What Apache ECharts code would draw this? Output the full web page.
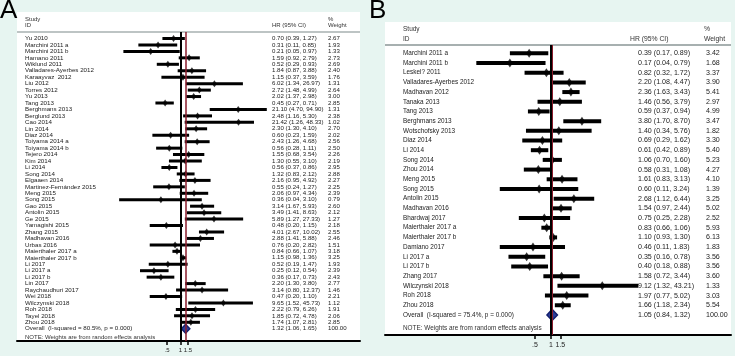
<!DOCTYPE html>
<html>
<head>
<meta charset="utf-8">
<script src="https://cdn.jsdelivr.net/npm/echarts@6/dist/echarts.min.js"></script>
<style>
html,body{margin:0;padding:0;background:#e7f5f1;}
#forest{width:735px;height:356px;}
</style>
</head>
<body>
<div id="forest"></div>
<script>
// panel A studies
var aStudy = ['Yu 2010','Marchini 2011 a','Marchini 2011 b','Hamano 2011','Wiklund 2011','Valladares-Ayerbes 2012','Karaayvaz  2012','Liu 2012','Torres 2012','Yu 2013','Tang 2013','Berghmans 2013','Berglund 2013','Cao 2014','Lin 2014','Diaz 2014','Toiyama 2014 a','Toiyama 2014 b','Tejero 2014','Kim 2014','Li 2014','Song 2014','Elgaaen 2014','Martinez-Fernández 2015','Meng 2015','Song 2015','Gao 2015','Antolin 2015','Ge 2015','Yamagishi 2015','Zhang 2015','Madhavan 2016','Urbas 2016','Maierthaler 2017 a','Maierthaler 2017 b','Li 2017','Li 2017 a','Li 2017 b','Lin 2017','Raychaudhuri 2017','Wei 2018','Wilczynski 2018','Roh 2018','Tayel 2018','Zhou 2018'];
var aHR   = [0.70,0.31,0.21,1.59,0.52,1.84,1.15,6.02,2.72,2.02,0.45,21.10,2.48,21.42,2.30,0.60,2.43,0.56,1.55,1.30,0.56,1.32,2.16,0.55,2.06,0.36,3.14,3.49,5.89,0.48,4.01,2.88,0.76,0.84,1.15,0.52,0.25,0.36,2.20,3.14,0.47,9.65,2.22,1.85,1.74];
var aLow  = [0.39,0.11,0.05,0.92,0.29,0.87,0.37,1.34,1.48,1.37,0.27,4.70,1.16,1.26,1.30,0.23,1.26,0.28,0.68,0.55,0.37,0.83,0.95,0.24,0.97,0.04,1.67,1.41,1.27,0.20,2.67,1.41,0.20,0.66,0.98,0.19,0.12,0.17,1.30,0.80,0.20,1.52,0.79,0.72,1.07];
var aHigh = [1.27,0.85,0.97,2.79,0.93,3.88,3.59,26.97,4.99,2.98,0.71,94.90,5.30,48.33,4.10,1.59,4.68,1.11,3.54,3.10,0.86,2.12,4.92,1.27,4.34,3.10,5.93,8.63,27.33,1.15,10.02,5.88,2.82,1.07,1.36,1.47,0.54,0.73,3.80,12.37,1.10,45.73,6.26,4.78,2.81];
var aWeight = [2.67,1.93,1.33,2.73,2.69,2.40,1.76,1.31,2.64,3.00,2.85,1.31,2.38,1.02,2.70,2.02,2.56,2.50,2.26,2.19,2.95,2.88,2.27,2.25,2.39,0.79,2.60,2.12,1.27,2.18,2.55,2.46,1.51,3.18,3.25,1.93,2.39,2.43,2.77,1.46,2.21,1.12,1.91,2.06,2.85];
var aOverall = [1.32, 1.06, 1.65, 100.00];
var aOverallLabel = 'Overall  (I-squared = 80.5%, p = 0.000)';

// panel B studies
var bStudy = ['Marchini 2011 a','Marchini 2011 b','Leskel? 2011','Valladares-Ayerbes 2012','Madhavan 2012','Tanaka 2013','Tang 2013','Berghmans 2013','Wotschofsky 2013','Diaz 2014','Li 2014','Song 2014','Zhou 2014','Meng 2015','Song 2015','Antolin 2015','Madhavan 2016','Bhardwaj 2017','Maierthaler 2017 a','Maierthaler 2017 b','Damiano 2017','Li 2017 a','Li 2017 b','Zhang 2017','Wilczynski 2018','Roh 2018','Zhou 2018'];
var bHR   = [0.39,0.17,0.82,2.20,2.36,1.46,0.59,3.80,1.40,0.69,0.61,1.06,0.58,1.61,0.60,2.68,1.54,0.75,0.83,1.10,0.46,0.35,0.40,1.58,9.12,1.97,1.66];
var bLow  = [0.17,0.04,0.32,1.08,1.63,0.56,0.37,1.70,0.34,0.29,0.42,0.70,0.31,0.83,0.11,1.12,0.97,0.25,0.66,0.93,0.11,0.16,0.18,0.72,1.32,0.77,1.18];
var bHigh = [0.89,0.79,1.72,4.47,3.43,3.79,0.94,8.70,5.76,1.62,0.89,1.60,1.08,3.13,3.24,6.44,2.44,2.28,1.06,1.30,1.83,0.78,0.88,3.44,43.21,5.02,2.34];
var bWeight = [3.42,1.68,3.37,3.90,5.41,2.97,4.99,3.47,1.82,3.30,5.40,5.23,4.27,4.10,1.39,3.25,5.02,2.52,5.93,6.13,1.83,3.56,3.56,3.60,1.33,3.03,5.54];
var bOverall = [1.05, 0.84, 1.32, 100.00];
var bOverallLabel = 'Overall  (I-squared = 75.4%, p = 0.000)';

var tickValues = [0.5, 1, 1.5];
var tickLabels = ['.5', '1', '1.5'];

var FONT = '"Liberation Sans", Arial, sans-serif';
var myChart = echarts.init(document.getElementById('forest'));

function fmt(v){ return v.toFixed(2); }
function ciText(h, l, u){ return fmt(h) + ' (' + fmt(l) + ', ' + fmt(u) + ')'; }

function panelSeries(idx, study, hr, low, high, weight, overall, overallLabel, cfg) {
  var n = study.length;
  var rows = [];
  for (var k = 0; k < n; k++) rows.push([low[k], high[k], k]);
  var pts = [];
  for (var k = 0; k < n; k++) pts.push([hr[k], k]);
  var textRows = [];
  for (var k = 0; k <= n; k++) textRows.push([1, k]);
  return [
    {
      type: 'custom', xAxisIndex: idx, yAxisIndex: idx, silent: true,
      data: rows, encode: {x: [0, 1], y: 2},
      renderItem: function (params, api) {
        var a = api.coord([api.value(0), api.value(2)]);
        var b = api.coord([api.value(1), api.value(2)]);
        return {type: 'rect', shape: {x: a[0], y: a[1] - cfg.bar / 2, width: b[0] - a[0], height: cfg.bar}, style: {fill: '#000'}};
      }
    },
    {
      type: 'scatter', xAxisIndex: idx, yAxisIndex: idx, silent: true,
      symbol: 'diamond', symbolSize: cfg.dot,
      itemStyle: {color: '#000'},
      data: pts, z: 3,
      markLine: {
        silent: true, symbol: 'none', label: {show: false},
        data: [
          {xAxis: 1, lineStyle: {color: '#000', width: 2, type: 'solid'}},
          {xAxis: overall[0], lineStyle: {color: '#8a1c2c', width: cfg.red, type: 'solid'}}
        ]
      }
    },
    {
      type: 'custom', xAxisIndex: idx, yAxisIndex: idx, silent: true, z: 4,
      data: [[overall[0], overall[1], overall[2], n]],
      renderItem: function (params, api) {
        var c = api.coord([api.value(0), api.value(3)]);
        var l = api.coord([api.value(1), api.value(3)]);
        var r = api.coord([api.value(2), api.value(3)]);
        var h = cfg.dia;
        return {type: 'polygon', shape: {points: [[l[0], c[1]], [c[0], c[1] - h], [r[0], c[1]], [c[0], c[1] + h]]},
          style: {fill: '#2c3f9a', stroke: '#14206e', lineWidth: 1.5}};
      }
    },
    {
      type: 'custom', xAxisIndex: idx, yAxisIndex: idx, silent: true, z: 5,
      data: textRows,
      renderItem: function (params, api) {
        var k = params.dataIndex;
        var y = api.coord([1, api.value(1)])[1];
        var isAll = k === n;
        var name = isAll ? overallLabel : study[k];
        var ci = isAll ? ciText(overall[0], overall[1], overall[2]) : ciText(hr[k], low[k], high[k]);
        var w = isAll ? fmt(overall[3]) : fmt(weight[k]);
        var st = function (t, x, fs) {
          return {type: 'text', style: {text: t, x: x, y: y, fill: '#222', font: fs + 'px ' + FONT, verticalAlign: 'middle'}};
        };
        return {type: 'group', children: [st(name, cfg.xName, cfg.fsName), st(ci, cfg.xCI, cfg.fsCI), st(w, cfg.xW, cfg.fsCI)]};
      }
    }
  ];
}

function headText(t, x, y, fs) {
  return {type: 'text', silent: true, z: 10, style: {text: t, x: x, y: y, fill: '#333', font: fs + 'px ' + FONT, verticalAlign: 'middle'}};
}

var cfgA = {bar: 3, dot: [5, 7], red: 1.5, dia: 4.5, xName: 25, xCI: 272, xW: 328, fsName: 6.2, fsCI: 6.1};
var cfgB = {bar: 4, dot: [6, 9], red: 1, dia: 5.5, xName: 403, xCI: 638, xW: 706, fsName: 6.4, fsCI: 7.1};

function xAxisFor(grid, mn, mx, margin, fs) {
  return {
    type: 'log', gridIndex: grid, min: mn, max: mx,
    axisLine: {onZero: false, lineStyle: {color: '#000', width: 2}},
    axisTick: {customValues: tickValues, length: 4, lineStyle: {color: '#000', width: 1.5}},
    axisLabel: {customValues: tickValues, margin: margin, fontSize: fs, color: '#222', fontFamily: FONT,
      formatter: function (v) { return tickLabels[tickValues.indexOf(+(+v).toFixed(2))] || ''; }},
    splitLine: {show: false}
  };
}

var option = {
  backgroundColor: '#e7f5f1',
  animation: false,
  grid: [
    {left: 17, top: 32, width: 343, height: 309},
    {left: 385, top: 45, width: 346, height: 290}
  ],
  xAxis: [
    xAxisFor(0, 0.000185, 12809, 6, 6),
    xAxisFor(1, 0.000781, 2342, 7, 7)
  ],
  yAxis: [
    {type: 'value', gridIndex: 0, inverse: true, min: -1.008, max: 46.9, show: false},
    {type: 'value', gridIndex: 1, inverse: true, min: -0.857, max: 29.07, show: false}
  ],
  graphic: [
    {type: 'rect', silent: true, z: -10, shape: {x: 17, y: 12, width: 343, height: 329}, style: {fill: '#fff'}},
    {type: 'rect', silent: true, z: -10, shape: {x: 385, y: 22, width: 346, height: 313}, style: {fill: '#fff'}},
    {type: 'line', silent: true, shape: {x1: 17, y1: 32, x2: 360, y2: 32}, style: {stroke: '#a7b0b0', lineWidth: 1.5}},
    {type: 'line', silent: true, shape: {x1: 385, y1: 45, x2: 731, y2: 45}, style: {stroke: '#a7b0b0', lineWidth: 2}},
    {type: 'text', silent: true, style: {text: 'A', x: 0, y: 24, fill: '#000', font: '26px ' + FONT, verticalAlign: 'bottom'}},
    {type: 'text', silent: true, style: {text: 'B', x: 369, y: 24, fill: '#000', font: '26px ' + FONT, verticalAlign: 'bottom'}},
    headText('Study', 25, 19, 6), headText('ID', 25, 25, 6),
    headText('HR (95% CI)', 272, 25, 6), headText('%', 328, 19, 6), headText('Weight', 328, 25, 6),
    headText('NOTE: Weights are from random effects analysis', 25, 337, 6),
    headText('Study', 403, 29, 6.5), headText('ID', 403, 39, 6.5),
    headText('HR (95% CI)', 630, 39, 6.8), headText('%', 704, 29, 6.8), headText('Weight', 704, 39, 6.8),
    headText('NOTE: Weights are from random effects analysis', 403, 328, 6.4)
  ],
  series: [].concat(
    panelSeries(0, aStudy, aHR, aLow, aHigh, aWeight, aOverall, aOverallLabel, cfgA),
    panelSeries(1, bStudy, bHR, bLow, bHigh, bWeight, bOverall, bOverallLabel, cfgB)
  )
};
myChart.setOption(option);
</script>
</body>
</html>
